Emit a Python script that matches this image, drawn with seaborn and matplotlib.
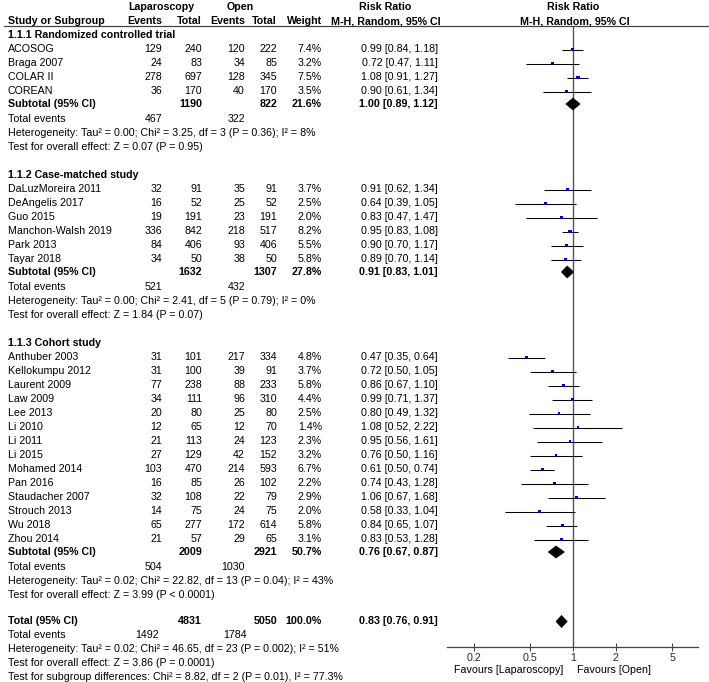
import numpy as np
import pandas as pd
import seaborn as sns
import matplotlib.pyplot as plt
from matplotlib.patches import Polygon

# study level data
groups = ["1.1.1 Randomized controlled trial", "1.1.2 Case-matched study", "1.1.3 Cohort study"]
group_of = [0] * 4 + [1] * 6 + [2] * 14
studies = ["ACOSOG", "Braga 2007", "COLAR II", "COREAN",
           "DaLuzMoreira 2011", "DeAngelis 2017", "Guo 2015", "Manchon-Walsh 2019", "Park 2013", "Tayar 2018",
           "Anthuber 2003", "Kellokumpu 2012", "Laurent 2009", "Law 2009", "Lee 2013", "Li 2010", "Li 2011",
           "Li 2015", "Mohamed 2014", "Pan 2016", "Staudacher 2007", "Strouch 2013", "Wu 2018", "Zhou 2014"]
lap_events = [129, 24, 278, 36, 32, 16, 19, 336, 84, 34,
              31, 31, 77, 34, 20, 12, 21, 27, 103, 16, 32, 14, 65, 21]
lap_total = [240, 83, 697, 170, 91, 52, 191, 842, 406, 50,
             101, 100, 238, 111, 80, 65, 113, 129, 470, 85, 108, 75, 277, 57]
open_events = [120, 34, 128, 40, 35, 25, 23, 218, 93, 38,
               217, 39, 88, 96, 25, 12, 24, 42, 214, 26, 22, 24, 172, 29]
open_total = [222, 85, 345, 170, 91, 52, 191, 517, 406, 50,
              334, 91, 233, 310, 80, 70, 123, 152, 593, 102, 79, 75, 614, 65]
weight = [7.4, 3.2, 7.5, 3.5, 3.7, 2.5, 2.0, 8.2, 5.5, 5.8,
          4.8, 3.7, 5.8, 4.4, 2.5, 1.4, 2.3, 3.2, 6.7, 2.2, 2.9, 2.0, 5.8, 3.1]
rr = [0.99, 0.72, 1.08, 0.90, 0.91, 0.64, 0.83, 0.95, 0.90, 0.89,
      0.47, 0.72, 0.86, 0.99, 0.80, 1.08, 0.95, 0.76, 0.61, 0.74, 1.06, 0.58, 0.84, 0.83]
rr_lo = [0.84, 0.47, 0.91, 0.61, 0.62, 0.39, 0.47, 0.83, 0.70, 0.70,
         0.35, 0.50, 0.67, 0.71, 0.49, 0.52, 0.56, 0.50, 0.50, 0.43, 0.67, 0.33, 0.65, 0.53]
rr_hi = [1.18, 1.11, 1.27, 1.34, 1.34, 1.05, 1.47, 1.08, 1.17, 1.14,
         0.64, 1.05, 1.10, 1.37, 1.32, 2.22, 1.61, 1.16, 0.74, 1.28, 1.68, 1.04, 1.07, 1.28]

# subgroup summaries
sub_lap_total = [1190, 1632, 2009]
sub_open_total = [822, 1307, 2921]
sub_weight = [21.6, 27.8, 50.7]
sub_rr = [1.00, 0.91, 0.76]
sub_lo = [0.89, 0.83, 0.67]
sub_hi = [1.12, 1.01, 0.87]
sub_lap_events = [467, 521, 504]
sub_open_events = [322, 432, 1030]
sub_het = ["Heterogeneity: Tau² = 0.00; Chi² = 3.25, df = 3 (P = 0.36); I² = 8%",
           "Heterogeneity: Tau² = 0.00; Chi² = 2.41, df = 5 (P = 0.79); I² = 0%",
           "Heterogeneity: Tau² = 0.02; Chi² = 22.82, df = 13 (P = 0.04); I² = 43%"]
sub_test = ["Test for overall effect: Z = 0.07 (P = 0.95)",
            "Test for overall effect: Z = 1.84 (P = 0.07)",
            "Test for overall effect: Z = 3.99 (P < 0.0001)"]

# overall
tot_lap_total, tot_open_total, tot_weight = 4831, 5050, 100.0
tot_rr, tot_lo, tot_hi = 0.83, 0.76, 0.91
tot_lap_events, tot_open_events = 1492, 1784
tot_het = "Heterogeneity: Tau² = 0.02; Chi² = 46.65, df = 23 (P = 0.002); I² = 51%"
tot_test = "Test for overall effect: Z = 3.86 (P = 0.0001)"
subgroup_test = "Test for subgroup differences: Chi² = 8.82, df = 2 (P = 0.01), I² = 77.3%"

sns.set_theme(style="white")
plt.rcParams['font.family'] = ['Liberation Sans', 'DejaVu Sans']
FS = 7.7

W, H = 709, 682
fig = plt.figure(figsize=(W / 100, H / 100), dpi=100)
ax = fig.add_axes([0, 0, 1, 1])
ax.set_xlim(0, W)
ax.set_ylim(H, 0)
ax.axis("off")

# column right edges (px)
c_name, c_le, c_lt, c_oe, c_ot, c_w, c_rr = 8, 162, 202, 245, 277, 322, 438


def txt(x, y, s, ha="right", bold=False):
    ax.text(x, y, s, ha=ha, va="center", fontsize=FS, fontweight="bold" if bold else "normal", color="black")


def ci_str(a, b, c):
    return f"{a:.2f} [{b:.2f}, {c:.2f}]"


# header
txt(161, 7, "Laparoscopy", ha="center", bold=True)
txt(240, 7, "Open", ha="center", bold=True)
txt(385, 7, "Risk Ratio", ha="center", bold=True)
txt(573, 7, "Risk Ratio", ha="center", bold=True)
txt(c_name, 21, "Study or Subgroup", ha="left", bold=True)
for x, s in [(c_le, "Events"), (c_lt, "Total"), (c_oe, "Events"), (c_ot, "Total"), (c_w, "Weight")]:
    txt(x, 21, s, bold=True)
txt(c_rr + 3, 21, "M-H, Random, 95% CI", bold=True)
txt(575, 21, "M-H, Random, 95% CI", ha="center", bold=True)
ax.plot([4, W], [25.5, 25.5], color="#444444", lw=0.9)

# rows
study_y = [0.0] * len(studies)
sub_y = []
y = 34.5
for g in range(3):
    txt(c_name, y, groups[g], ha="left", bold=True)
    y += 15
    idx = [i for i in range(len(studies)) if group_of[i] == g]
    for k, i in enumerate(idx):
        if k > 0:
            y += 14
        study_y[i] = y
        txt(c_name, y, studies[i], ha="left")
        txt(c_le, y, str(lap_events[i]))
        txt(c_lt, y, str(lap_total[i]))
        txt(c_oe, y, str(open_events[i]))
        txt(c_ot, y, str(open_total[i]))
        txt(c_w, y, f"{weight[i]:.1f}%")
        txt(c_rr, y, ci_str(rr[i], rr_lo[i], rr_hi[i]))
    y += 12.5
    sub_y.append(y)
    txt(c_name, y, "Subtotal (95% CI)", ha="left", bold=True)
    txt(c_lt, y, str(sub_lap_total[g]), bold=True)
    txt(c_ot, y, str(sub_open_total[g]), bold=True)
    txt(c_w, y, f"{sub_weight[g]:.1f}%", bold=True)
    txt(c_rr, y, ci_str(sub_rr[g], sub_lo[g], sub_hi[g]), bold=True)
    y += 15
    txt(c_name, y, "Total events", ha="left")
    txt(c_le, y, str(sub_lap_events[g]))
    txt(c_oe, y, str(sub_open_events[g]))
    y += 14.5
    txt(c_name, y, sub_het[g], ha="left")
    y += 14
    txt(c_name, y, sub_test[g], ha="left")
    y += 27

y -= 1
tot_y = y
txt(c_name, y, "Total (95% CI)", ha="left", bold=True)
txt(c_lt, y, str(tot_lap_total), bold=True)
txt(c_ot, y, str(tot_open_total), bold=True)
txt(c_w, y, f"{tot_weight:.1f}%", bold=True)
txt(c_rr, y, ci_str(tot_rr, tot_lo, tot_hi), bold=True)
y += 14
txt(c_name, y, "Total events", ha="left")
txt(c_le - 3, y, str(tot_lap_events))
txt(c_oe + 2, y, str(tot_open_events))
y += 14
txt(c_name, y, tot_het, ha="left")
y += 14
txt(c_name, y, tot_test, ha="left")
y += 14
txt(c_name, y, subgroup_test, ha="left")

# forest panel, y in the same pixel coordinates
top_px, bot_px, left_px, right_px = 25.5, 647, 447, 698
axf = fig.add_axes([left_px / W, 1 - bot_px / H, (right_px - left_px) / W, (bot_px - top_px) / H])
axf.patch.set_alpha(0)
axf.set_xscale("log")
axf.set_xlim(10 ** -0.887, 10 ** 0.880)
axf.set_ylim(bot_px, top_px)

df = pd.DataFrame({"rr": rr, "lo": rr_lo, "hi": rr_hi, "y": study_y, "weight": weight})
axf.hlines(df["y"], df["lo"], df["hi"], color="black", lw=0.75, zorder=2)
sns.scatterplot(data=df, x="rr", y="y", size="weight", sizes=(2.2, 7.5), marker="s",
                color="#0000cc", edgecolor="none", legend=False, ax=axf, zorder=3)

for a, b, c, yy in zip(sub_rr + [tot_rr], sub_lo + [tot_lo], sub_hi + [tot_hi], sub_y + [tot_y]):
    axf.add_patch(Polygon([(b, yy), (a, yy - 6), (c, yy), (a, yy + 6)], closed=True,
                          facecolor="black", edgecolor="black", lw=0.5, zorder=4))

axf.axvline(1, color="#555555", lw=1.0, zorder=1)
for s in ["top", "left", "right"]:
    axf.spines[s].set_visible(False)
axf.spines["bottom"].set_color("#444444")
axf.spines["bottom"].set_linewidth(0.9)
axf.set_yticks([])
axf.set_xticks([0.2, 0.5, 1, 2, 5])
axf.set_xticklabels(["0.2", "0.5", "1", "2", "5"])
axf.minorticks_off()
axf.tick_params(axis="x", direction="inout", length=6, width=0.8, color="#444444",
                labelsize=FS, pad=1, bottom=True)
axf.set_xlabel("")
axf.set_ylabel("")

txt(563, 670, "Favours [Laparoscopy]")
txt(577, 670, "Favours [Open]", ha="left")

fig.savefig("out.png", dpi=100)
